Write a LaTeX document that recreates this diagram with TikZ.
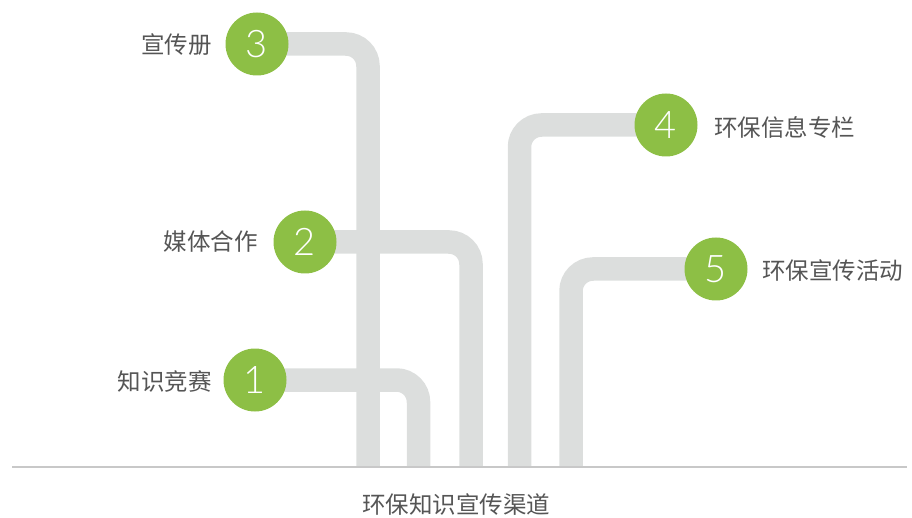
\documentclass[tikz,border=0pt]{standalone}
\usepackage{fontspec}
\newfontfamily\cjk{Noto Sans CJK SC}
\newfontfamily\numfont{Lato Light}
\definecolor{pipegray}{HTML}{DCDEDD}
\definecolor{leaf}{HTML}{8DBF45}
\definecolor{txt}{HTML}{555555}
\definecolor{baseln}{HTML}{C8C8C8}
\begin{document}
\begin{tikzpicture}[x=1pt,y=-1pt,
  pipe/.style={draw=pipegray,line width=23.5pt,rounded corners=22pt},
  num/.style={circle,fill=leaf,minimum size=63pt,inner sep=0pt,text=white,font=\numfont\fontsize{38}{38}\selectfont},
  lbl/.style={text=txt,font=\cjk\fontsize{23.5}{23.5}\selectfont,inner sep=0pt}]
\useasboundingbox (0,0) rectangle (912,518);
% circles positions
\coordinate (p3) at (257,44);
\coordinate (p2) at (305,242);
\coordinate (p1) at (255,380);
\coordinate (p4) at (666,125);
\coordinate (p5) at (716,269);
% bottom ends
\coordinate (b3) at (368,467);
\coordinate (b1) at (418.5,467);
\coordinate (b2) at (471,467);
\coordinate (b4) at (519.5,467);
\coordinate (b5) at (571,467);
% pipes
\draw[pipe] (p3) -| (b3);
\draw[pipe] (p2) -| (b2);
\draw[pipe] (p1) -| (b1);
\draw[pipe] (p4) -| (b4);
\draw[pipe] (p5) -| (b5);
% baseline
\coordinate (l0) at (12,467);
\coordinate (l1) at (907,467);
\draw[baseln,line width=2pt] (l0) -- (l1);
% circles
\node[num] (c3) at (p3) {3};
\node[num] (c2) at (p2) {2};
\node[num] (c1) at (p1) {1};
\node[num] (c4) at (p4) {4};
\node[num] (c5) at (p5) {5};
% labels
\node[lbl,anchor=east] (t3) at (212,45) {宣传册};
\node[lbl,anchor=east] (t2) at (258,242) {媒体合作};
\node[lbl,anchor=east] (t1) at (212,381) {知识竞赛};
\node[lbl,anchor=west] (t4) at (714,127) {环保信息专栏};
\node[lbl,anchor=west] (t5) at (762,271) {环保宣传活动};
\node[lbl] (title) at (456,505) {环保知识宣传渠道};
\end{tikzpicture}
\end{document}
